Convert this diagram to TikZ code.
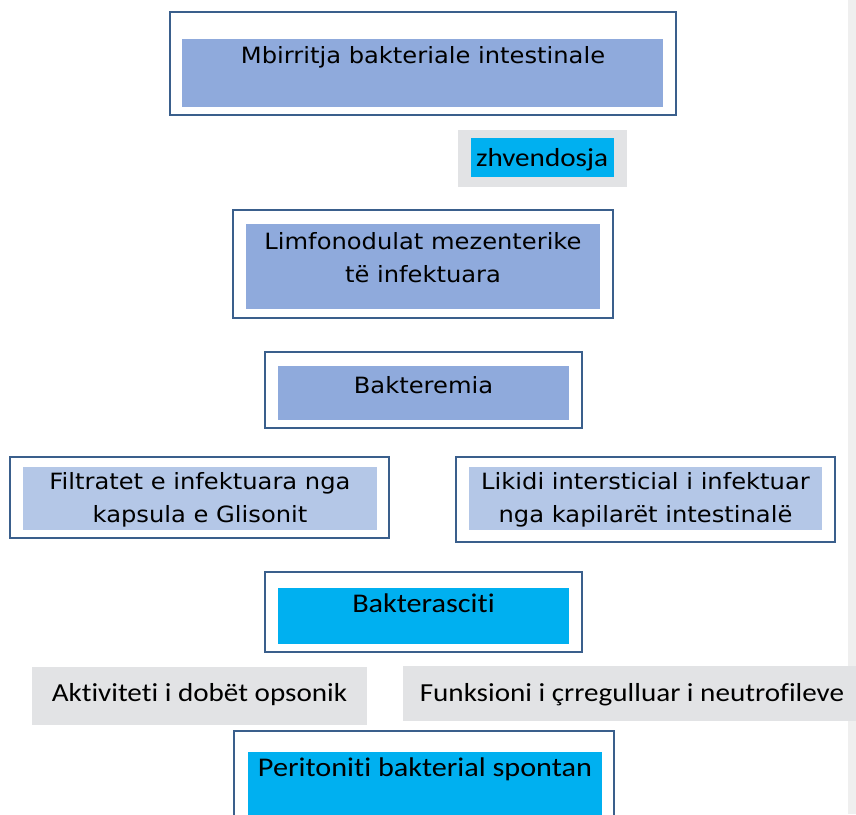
\documentclass[tikz,border=0pt]{standalone}
\usepackage{fontspec}
\newfontfamily\vfont[FakeStretch=1.08]{DejaVu Sans}
\newfontfamily\cfont[FakeStretch=1.12,Ligatures={NoCommon}]{Carlito}
\definecolor{framec}{HTML}{3A5F8C}
\definecolor{blueA}{HTML}{8FAADC}
\definecolor{blueB}{HTML}{B4C7E7}
\definecolor{cyanC}{HTML}{00B0F0}
\definecolor{grayD}{HTML}{E2E3E5}
\definecolor{stripe}{HTML}{EFEFEF}
\tikzset{
  frame/.style={draw=framec, line width=1.8pt, fill=white},
  vtxt/.style={anchor=base, inner sep=0pt, align=center, font=\vfont\fontsize{22.4}{32.5}\selectfont, text=black},
  ctxt/.style={anchor=base, inner sep=0pt, align=center, font=\cfont\fontsize{26}{32}\selectfont, text=black},
}
\begin{document}
\begin{tikzpicture}[x=1pt, y=-1pt]
\useasboundingbox (0,0) rectangle (856,814);
\clip (0,0) rectangle (856,814);
\fill[white] (0,0) rectangle (856,814);
% right stripe
\fill[stripe] (848,0) rectangle (856,814);

% Box 1
\draw[frame] (170,12) rectangle (676,115);
\fill[blueA] (182,39) rectangle (663,107);
\node[vtxt] (mbirritja) at (423,63) {Mbirritja bakteriale intestinale};

% zhvendosja
\fill[grayD] (458,130) rectangle (627,187);
\fill[cyanC] (471,138) rectangle (614,177);
\node[ctxt] (zhvendosja) at (542,166) {zhvendosja};

% Limfonodulat (base anchor = last line)
\draw[frame] (233,210) rectangle (613,318);
\fill[blueA] (246,224) rectangle (600,309);
\node[vtxt] (limfo) at (423,282) {Limfonodulat mezenterike\\të infektuara};

% Bakteremia
\draw[frame] (265,352) rectangle (582,428);
\fill[blueA] (278,366) rectangle (569,420);
\node[vtxt] (bakteremia) at (423.5,393) {Bakteremia};

% Filtratet
\draw[frame] (10,457) rectangle (389,538);
\fill[blueB] (23,467) rectangle (377,530);
\node[vtxt] (filtratet) at (200,522) {Filtratet e infektuara nga\\kapsula e Glisonit};

% Likidi
\draw[frame] (456,457) rectangle (835,542);
\fill[blueB] (469,467) rectangle (822,530);
\node[vtxt] (likidi) at (645.5,522) {Likidi intersticial i infektuar\\nga kapilarët intestinalë};

% Bakterasciti
\draw[frame] (265,572) rectangle (582,652);
\fill[cyanC] (278,588) rectangle (569,644);
\node[ctxt, font=\cfont\fontsize{27}{32}\selectfont] (bakterasciti) at (423.5,612) {Bakterasciti};

% Aktiviteti / Funksioni
\fill[grayD] (32,667) rectangle (367,725);
\node[ctxt] (aktiviteti) at (199.5,701) {Aktiviteti i dobët opsonik};
\fill[grayD] (403,666) rectangle (856,721);
\node[ctxt] (funksioni) at (632,701) {Funksioni i çrregulluar i neutrofileve};

% Peritoniti
\draw[frame] (234,731) rectangle (614,840);
\fill[cyanC] (248,752) rectangle (602,820);
\node[ctxt, font=\cfont\fontsize{27}{32}\selectfont] (peritoniti) at (425,776) {Peritoniti bakterial spontan};
\end{tikzpicture}
\end{document}
